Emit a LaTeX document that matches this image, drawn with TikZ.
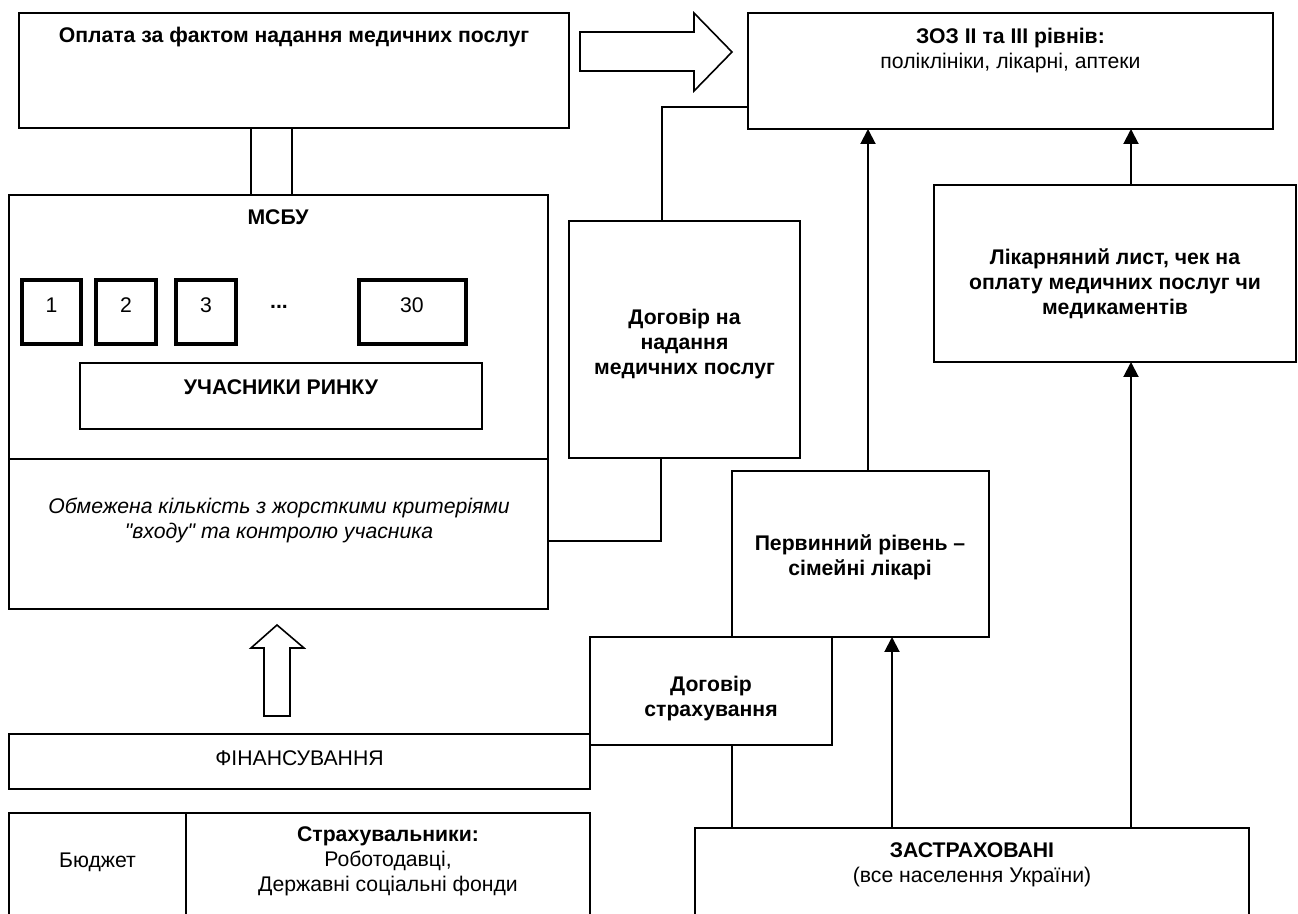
\documentclass[tikz,border=0pt]{standalone}
\usepackage{fontspec}
\setmainfont{Liberation Sans}[Ligatures=TeXOff]
\usetikzlibrary{arrows.meta}
\begin{document}
\begin{tikzpicture}[x=0.5pt,y=-0.5pt,
  font=\fontsize{10.6}{12.5}\selectfont,
  box/.style={draw, line width=1pt, inner sep=0pt, outer sep=0pt, anchor=north west, fill=white},
  numbox/.style={box, line width=1.8pt},
  txt/.style={align=center, inner sep=0pt},
  conn/.style={line width=1pt},
  arr/.style={line width=1pt, -{Triangle[length=7.5pt,width=7.5pt]}},
  blockarrow/.style={draw, line width=0.8pt, fill=white, line join=miter}]
\useasboundingbox (0,0) rectangle (1298,914);
\clip (0,0) rectangle (1298,914);
\fill[white] (0,0) rectangle (1298,914);

% boxes
\node[box, minimum width=275pt, minimum height=57.5pt] (opl) at (19,13) {};
\node[box, minimum width=262.5pt, minimum height=58pt] (zoz) at (748,13) {};
\node[box, minimum width=269.5pt, minimum height=207pt] (msbu) at (9,195) {};
\node[numbox, minimum width=29.5pt, minimum height=32pt] (b1) at (22,280) {};
\node[numbox, minimum width=30pt, minimum height=32pt] (b2) at (96,280) {};
\node[numbox, minimum width=30pt, minimum height=32pt] (b3) at (176,280) {};
\node[numbox, minimum width=53.5pt, minimum height=32pt] (b30) at (359,280) {};
\node[box, minimum width=201pt, minimum height=33pt] (uch) at (80,363) {};
\node[box, minimum width=115.5pt, minimum height=118.5pt] (dog1) at (569,221) {};
\node[box, minimum width=128.5pt, minimum height=83pt] (perv) at (732,471) {};
\node[box, minimum width=181pt, minimum height=88.5pt] (likar) at (934,185) {};
\node[box, minimum width=290.5pt, minimum height=27.5pt] (fin) at (9,734) {};
\node[box, minimum width=121pt, minimum height=54pt] (dog2) at (590,637) {};
\node[box, minimum width=88.5pt, minimum height=60pt] (bud) at (9,813) {};
\node[box, minimum width=202pt, minimum height=60pt] (strah) at (186,813) {};
\node[box, minimum width=277pt, minimum height=60pt] (zastr) at (695,828) {};

% divider in MSBU
\coordinate (dv) at (0,459);
\draw[conn] (msbu.west |- dv) -- (msbu.east |- dv);

% texts
\node[txt, font=\fontsize{10.6}{12.5}\selectfont\bfseries] (t-opl) at (294,37) {Оплата за фактом надання медичних послуг};
\node[txt] (t-zoz) at (1010.5,51) {\textbf{ЗОЗ II та III рівнів:}\\поліклініки, лікарні, аптеки};
\node[txt, font=\fontsize{10.6}{12.5}\selectfont\bfseries] (t-msbu) at (278,217) {МСБУ};
\node[txt] (t1) at (51.5,305) {1};
\node[txt] (t2) at (126,305) {2};
\node[txt] (t3) at (206,305) {3};
\node[txt, font=\fontsize{10.6}{12.5}\selectfont\bfseries] (tdots) at (279,307) {...};
\node[txt] (t30) at (412,305) {30};
\node[txt, font=\fontsize{10.6}{12.5}\selectfont\bfseries] (t-uch) at (281,387) {УЧАСНИКИ РИНКУ};
\node[txt, font=\fontsize{10.6}{12.5}\selectfont\itshape] (t-obm) at (279,520) {Обмежена кількість з жорсткими критеріями\\"входу" та контролю учасника};
\node[txt, font=\fontsize{10.6}{12.5}\selectfont\bfseries] (t-dog1) at (684.5,344) {Договір на\\надання\\медичних послуг};
\node[txt, font=\fontsize{10.6}{12.5}\selectfont\bfseries] (t-perv) at (860,557) {Первинний рівень –\\сімейні лікарі};
\node[txt, font=\fontsize{10.6}{12.5}\selectfont\bfseries] (t-likar) at (1115,284) {Лікарняний лист, чек на\\оплату медичних послуг чи\\медикаментів};
\node[txt, font=\fontsize{10.6}{12.5}\selectfont\bfseries] (t-dog2) at (711,699) {Договір\\страхування};
\node[txt] (t-fin) at (299.5,758) {ФІНАНСУВАННЯ};
\node[txt] (t-bud) at (97.5,862) {Бюджет};
\node[txt] (t-strah) at (388,861) {\textbf{Страхувальники:}\\Роботодавці,\\Державні соціальні фонди};
\node[txt] (t-zastr) at (972,865) {\textbf{ЗАСТРАХОВАНІ}\\(все населення України)};

% connectors
\coordinate (d1) at (251,0);
\coordinate (d2) at (292,0);
\draw[conn] (opl.south -| d1) -- (msbu.north -| d1);
\draw[conn] (opl.south -| d2) -- (msbu.north -| d2);

\coordinate (c662) at (662,107);
\draw[conn] (dog1.north -| c662) -- (c662) -- (zoz.west |- c662);
\coordinate (c661) at (661,541);
\draw[conn] (dog1.south -| c661) -- (c661) -- (msbu.east |- c661);

\coordinate (a868) at (868,0);
\draw[arr] (perv.north -| a868) -- (zoz.south -| a868);
\coordinate (a1131) at (1131,0);
\draw[arr] (likar.north -| a1131) -- (zoz.south -| a1131);
\draw[arr] (zastr.north -| a1131) -- (likar.south -| a1131);
\coordinate (a892) at (892,0);
\draw[arr] (zastr.north -| a892) -- (perv.south -| a892);
\coordinate (a732) at (732,0);
\draw[conn] (dog2.south -| a732) -- (zastr.north -| a732);

% block arrows
\draw[blockarrow] (580,32) -- (694,32) -- (694,13) -- (732,52) -- (694,91) -- (694,71) -- (580,71) -- cycle;
\draw[blockarrow] (277,625) -- (304,648) -- (290,648) -- (290,716) -- (264,716) -- (264,648) -- (251,648) -- cycle;
\end{tikzpicture}
\end{document}
